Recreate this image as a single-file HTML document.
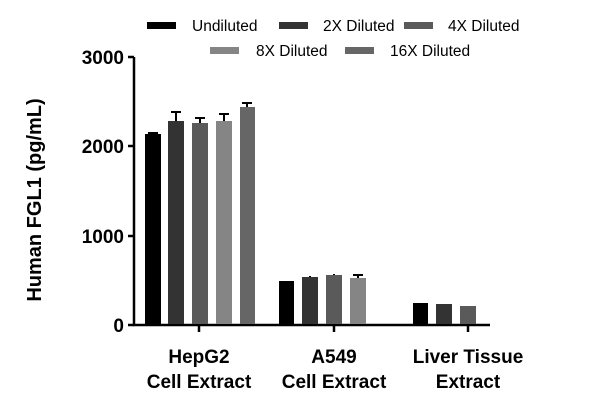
<!DOCTYPE html><html><head><style>body{margin:0;background:#fff}</style></head><body>
<svg width="600" height="413" xmlns="http://www.w3.org/2000/svg" font-family="Liberation Sans, sans-serif">
<rect width="600" height="413" fill="#fff"/>
<g font-size="15.5" fill="#000">
<rect x="147" y="22" width="29" height="7" fill="#000"/><text x="192" y="31">Undiluted</text>
<rect x="279" y="22" width="29" height="7" fill="#333"/><text x="323" y="31">2X Diluted</text>
<rect x="404" y="22" width="29" height="7" fill="#5a5a5a"/><text x="448" y="31">4X Diluted</text>
<rect x="210" y="47" width="29" height="7" fill="#858585"/><text x="256" y="56">8X Diluted</text>
<rect x="345" y="47" width="29" height="7" fill="#666"/><text x="390" y="56">16X Diluted</text>
</g>
<g stroke="#000" stroke-width="2.5" fill="none">
<path d="M134,57 V325 H490"/>
<path d="M128,57H134M128,146H134M128,236H134M128,325H134"/>
<path d="M199,325V332M334,325V332M468,325V332"/>
</g>
<g font-size="19" font-weight="bold" text-anchor="end">
<text x="124" y="64">3000</text><text x="124" y="153">2000</text><text x="124" y="243">1000</text><text x="124" y="332">0</text>
</g>
<text transform="translate(41,200) rotate(-90)" font-size="20" font-weight="bold" text-anchor="middle">Human FGL1 (pg/mL)</text>
<g font-size="19" font-weight="bold" text-anchor="middle">
<text x="199" y="363">HepG2</text><text x="199" y="388">Cell Extract</text>
<text x="334" y="363">A549</text><text x="334" y="388">Cell Extract</text>
<text x="468" y="363">Liver Tissue</text><text x="468" y="388">Extract</text>
</g>
<g stroke="#000" stroke-width="2">
<path d="M176,121V112M171,112H181M200,123V118M195,118H205M224,121V114M219,114H229M247,107V103M242,103H252"/>
<path d="M153,134V133M148,133H158M358,278V275M353,275H363M310,277V276M334,275V274"/>
</g>
<rect x="145" y="134" width="16" height="190" fill="#000"/>
<rect x="168" y="121" width="16" height="203" fill="#333"/>
<rect x="192" y="123" width="16" height="201" fill="#5a5a5a"/>
<rect x="216" y="121" width="16" height="203" fill="#858585"/>
<rect x="240" y="107" width="15" height="217" fill="#666"/>
<rect x="279" y="281" width="15" height="43" fill="#000"/>
<rect x="302" y="277" width="16" height="47" fill="#333"/>
<rect x="326" y="275" width="16" height="49" fill="#5a5a5a"/>
<rect x="350" y="278" width="16" height="46" fill="#858585"/>
<rect x="413" y="303" width="15" height="21" fill="#000"/>
<rect x="436" y="304" width="16" height="20" fill="#333"/>
<rect x="460" y="306" width="16" height="18" fill="#5a5a5a"/>
</svg>
</body></html>
